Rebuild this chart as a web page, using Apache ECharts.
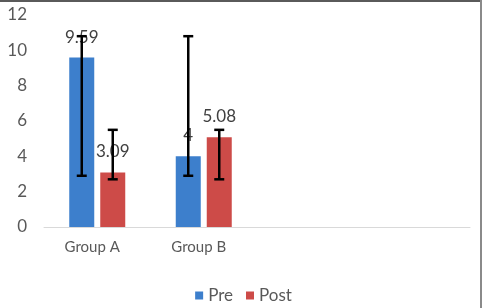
<!DOCTYPE html>
<html>
<head>
<meta charset="utf-8">
<script src="https://cdn.jsdelivr.net/npm/echarts@6/dist/echarts.min.js"></script>
<style>
html,body{margin:0;padding:0;background:#fff;}
#wrap{position:relative;width:487px;height:308px;overflow:hidden;}
#chart{position:absolute;left:0;top:0;width:487px;height:308px;}
#bt{position:absolute;left:0;top:0;width:482px;height:2px;background:#5a5a5a;}
#br{position:absolute;left:480px;top:0;width:2px;height:308px;background:#8a8a8a;}
</style>
</head>
<body>
<div id="wrap"><div id="chart"></div><div id="bt"></div><div id="br"></div></div>
<script>
var categories = ["Group A", "Group B", "", ""];
var seriesNames = ["Pre", "Post"];
var preValues = [9.59, 4, null, null];
var postValues = [3.09, 5.08, null, null];
var preErrLow = [2.9, 2.9, null, null];
var preErrHigh = [10.8, 10.8, null, null];
var postErrLow = [2.7, 2.7, null, null];
var postErrHigh = [5.5, 5.5, null, null];
var yTicks = [0, 2, 4, 6, 8, 10, 12];

var colors = ["#3d7fcc", "#cd4b48"];
var FONT = "Lato";

function errData(lo, hi) {
  var d = [];
  for (var i = 0; i < lo.length; i++) {
    if (lo[i] != null) d.push([i, lo[i], hi[i]]);
  }
  return d;
}

function makeErr(idx, lo, hi) {
  return {
    type: 'custom',
    name: seriesNames[idx] + ' err',
    data: errData(lo, hi),
    z: 10,
    silent: true,
    renderItem: function (params, api) {
      var x = api.value(0);
      var pLo = api.coord([x, api.value(1)]);
      var pHi = api.coord([x, api.value(2)]);
      var off = 0;
      if (api.barLayout) {
        var lay = api.barLayout({ barWidth: 25, barGap: '24%', count: 2 });
        off = lay[idx].offsetCenter;
      }
      var cx = pLo[0] + off;
      var cap = 5;
      var st = { stroke: '#000', lineWidth: 2.5 };
      return {
        type: 'group',
        children: [
          { type: 'line', shape: { x1: cx, y1: pHi[1], x2: cx, y2: pLo[1] }, style: st },
          { type: 'line', shape: { x1: cx - cap, y1: pHi[1], x2: cx + cap, y2: pHi[1] }, style: st },
          { type: 'line', shape: { x1: cx - cap, y1: pLo[1], x2: cx + cap, y2: pLo[1] }, style: st }
        ]
      };
    }
  };
}

var chart = echarts.init(document.getElementById('chart'), null, { renderer: 'canvas' });
chart.setOption({
  animation: false,
  backgroundColor: '#ffffff',
  textStyle: { fontFamily: FONT },
  color: colors,
  legend: {
    data: seriesNames,
    top: 282,
    left: 'center',
    itemWidth: 8,
    itemHeight: 8,
    itemGap: 13,
    icon: 'rect',
    textStyle: { fontFamily: FONT, fontSize: 17, color: '#595959', padding: [0, 0, 0, 0] }
  },
  grid: { left: 44, right: 17, top: 15, bottom: 81, containLabel: false },
  xAxis: {
    type: 'category',
    data: categories,
    axisLine: { lineStyle: { color: '#d9d9d9', width: 1 } },
    axisTick: { show: false },
    axisLabel: { fontFamily: FONT, fontSize: 15, color: '#595959', margin: 13, padding: [0, 10, 0, 0] }
  },
  yAxis: {
    type: 'value',
    min: yTicks[0],
    max: yTicks[yTicks.length - 1],
    interval: 2,
    splitLine: { show: false },
    axisLine: { show: false },
    axisTick: { show: false },
    axisLabel: { fontFamily: FONT, fontSize: 17, color: '#595959', margin: 17 }
  },
  series: [
    {
      type: 'bar', name: seriesNames[0], data: preValues, barWidth: 25, barGap: '24%',
      itemStyle: { color: colors[0] },
      label: { show: true, position: 'top', distance: 12, fontFamily: FONT, fontSize: 17, color: '#404040' }
    },
    {
      type: 'bar', name: seriesNames[1], data: postValues, barWidth: 25, barGap: '24%',
      itemStyle: { color: colors[1] },
      label: { show: true, position: 'top', distance: 12, fontFamily: FONT, fontSize: 17, color: '#404040' }
    },
    makeErr(0, preErrLow, preErrHigh),
    makeErr(1, postErrLow, postErrHigh)
  ]
});
</script>
</body>
</html>
